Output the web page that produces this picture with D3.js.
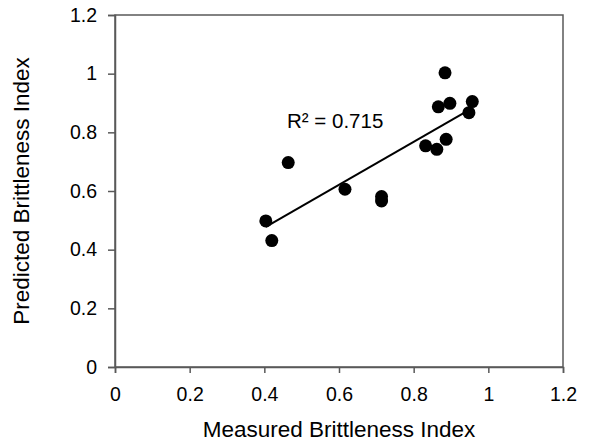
<!DOCTYPE html>
<html>
<head>
<meta charset="utf-8">
<script src="https://cdn.jsdelivr.net/npm/d3@7"></script>
<style>
  body { margin: 0; background: #fff; }
  text { font-family: "Liberation Sans", Arial, sans-serif; fill: #000; }
</style>
</head>
<body>
<div id="chart"></div>
<script>
// measured vs predicted brittleness index
const measured = [0.884, 0.866, 0.897, 0.957, 0.948, 0.832, 0.862, 0.887, 0.464, 0.616, 0.714, 0.714, 0.404, 0.420];
const predicted = [1.003, 0.887, 0.899, 0.905, 0.867, 0.754, 0.742, 0.776, 0.697, 0.606, 0.581, 0.566, 0.498, 0.431];
const ticks = [0, 0.2, 0.4, 0.6, 0.8, 1, 1.2];
const r2Label = "R² = 0.715";

const w = 592, h = 443;
const margin = { top: 15, right: 29, bottom: 76, left: 115 };

const svg = d3.select("#chart").append("svg").attr("width", w).attr("height", h);

const xScale = d3.scaleLinear().domain([0, 1.2]).range([margin.left, w - margin.right]);
const yScale = d3.scaleLinear().domain([0, 1.2]).range([h - margin.bottom, margin.top]);

const axisColour = "#595959";

// plot box
svg.append("rect")
  .attr("x", xScale(0)).attr("y", yScale(1.2))
  .attr("width", xScale(1.2) - xScale(0))
  .attr("height", yScale(0) - yScale(1.2))
  .attr("fill", "none").attr("stroke", axisColour).attr("stroke-width", 1.5);

const fmt = (d) => String(d);

const xAxis = svg.append("g")
  .attr("transform", `translate(0,${yScale(0)})`)
  .call(d3.axisBottom(xScale).tickValues(ticks).tickFormat(fmt).tickSize(6).tickPadding(14));

const yAxis = svg.append("g")
  .attr("transform", `translate(${xScale(0)},0)`)
  .call(d3.axisLeft(yScale).tickValues(ticks).tickFormat(fmt).tickSize(7).tickPadding(11));

[xAxis, yAxis].forEach((g) => {
  g.selectAll("path, line").attr("stroke", axisColour).attr("stroke-width", 1.5);
  g.selectAll("text").style("font-size", "19.5px").style("font-family", "Liberation Sans, Arial, sans-serif").attr("fill", "#000");
});

// least squares trend line
const n = measured.length;
const mx = d3.mean(measured), my = d3.mean(predicted);
let sxy = 0, sxx = 0;
for (let i = 0; i < n; i++) {
  sxy += (measured[i] - mx) * (predicted[i] - my);
  sxx += (measured[i] - mx) ** 2;
}
const slope = sxy / sxx;
const intercept = my - slope * mx;
const xMin = d3.min(measured), xMax = d3.max(measured);

svg.append("line")
  .attr("x1", xScale(xMin)).attr("y1", yScale(intercept + slope * xMin))
  .attr("x2", xScale(xMax)).attr("y2", yScale(intercept + slope * xMax))
  .attr("stroke", "#000").attr("stroke-width", 2);

svg.selectAll("circle")
  .data(measured.map((d, i) => ({ x: d, y: predicted[i] })))
  .enter()
  .append("circle")
  .attr("cx", (d) => xScale(d.x))
  .attr("cy", (d) => yScale(d.y))
  .attr("r", 6.5)
  .attr("fill", "#000");

svg.append("text")
  .attr("x", 287).attr("y", 128)
  .style("font-size", "20.5px")
  .text(r2Label);

svg.append("text")
  .attr("x", (xScale(0) + xScale(1.2)) / 2).attr("y", 437)
  .attr("text-anchor", "middle")
  .style("font-size", "22.5px")
  .text("Measured Brittleness Index");

svg.append("text")
  .attr("transform", `translate(29,${(yScale(0) + yScale(1.2)) / 2}) rotate(-90)`)
  .attr("text-anchor", "middle")
  .style("font-size", "22.5px")
  .text("Predicted Brittleness Index");
</script>
</body>
</html>
